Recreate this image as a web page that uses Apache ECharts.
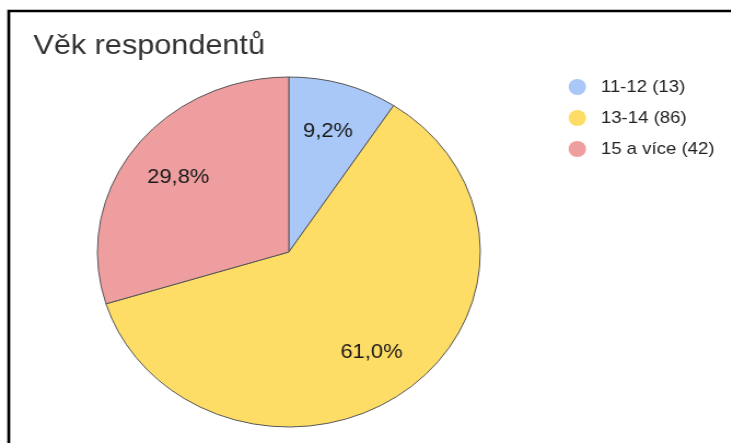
<!DOCTYPE html>
<html>
<head>
<meta charset="utf-8">
<script src="https://cdn.jsdelivr.net/npm/echarts@6/dist/echarts.min.js"></script>
<style>
  html, body { margin: 0; padding: 0; background: #fff; overflow: hidden; }
  #wrap { width: 731px; height: 443px; overflow: hidden; }
  /* the reference is stretched sideways, so the chart is drawn narrower and scaled */
  #chart { width: 668px; height: 443px; transform: scaleX(1.094); transform-origin: 0 0; }
</style>
</head>
<body>
<div id="wrap"><div id="chart"></div></div>
<script>
// age groups and answer counts
const categories = ['11-12', '13-14', '15 a více']
const counts = [13, 86, 42]
const colors = ['#a9c8f7', '#fedd66', '#ee9e9f']

const legendNames = categories.map((c, i) => c + ' (' + counts[i] + ')')
const pieData = legendNames.map((n, i) => ({ name: n, value: counts[i], itemStyle: { color: colors[i] } }))

const chart = echarts.init(document.getElementById('chart'))

chart.setOption({
  animation: false,
  title: {
    text: 'Věk respondentů',
    left: 30.5,
    top: 32.6,
    padding: 0,
    textStyle: { fontFamily: 'Liberation Sans, Arial', fontSize: 28, lineHeight: 28, fontWeight: 'normal', color: '#333' }
  },
  legend: {
    data: legendNames,
    orient: 'vertical',
    left: 519.7,
    top: 77,
    icon: 'circle',
    itemWidth: 33,
    itemHeight: 16,
    itemGap: 11,
    padding: 0,
    itemStyle: { borderWidth: 0 },
    textStyle: { fontFamily: 'Liberation Sans, Arial', fontSize: 17, color: '#222', lineHeight: 20 }
  },
  graphic: [{
    type: 'rect',
    shape: { x: 8, y: 11, width: 900, height: 600 },
    style: { fill: 'none', stroke: '#000', lineWidth: 2.7 },
    silent: true
  }],
  series: [
    {
      type: 'pie',
      center: [264, 252],
      radius: [0, 175],
      startAngle: 90,
      clockwise: true,
      data: pieData,
      itemStyle: { borderColor: '#555', borderWidth: 1 },
      label: { show: false },
      labelLine: { show: false },
      emphasis: { disabled: true }
    },
    {
      // transparent ring only used to place the percent labels further out
      type: 'pie',
      center: [264, 252],
      radius: [70, 175],
      startAngle: 90,
      clockwise: true,
      silent: true,
      data: pieData.map(d => ({ name: d.name, value: d.value, itemStyle: { color: 'transparent' } })),
      itemStyle: { borderWidth: 0 },
      label: {
        show: true,
        position: 'inner',
        fontFamily: 'Liberation Sans, Arial',
        fontSize: 20,
        color: '#1a1a1a',
        formatter: p => p.percent.toFixed(1).replace('.', ',') + '%'
      },
      labelLine: { show: false },
      emphasis: { disabled: true }
    }
  ]
})
</script>
</body>
</html>
